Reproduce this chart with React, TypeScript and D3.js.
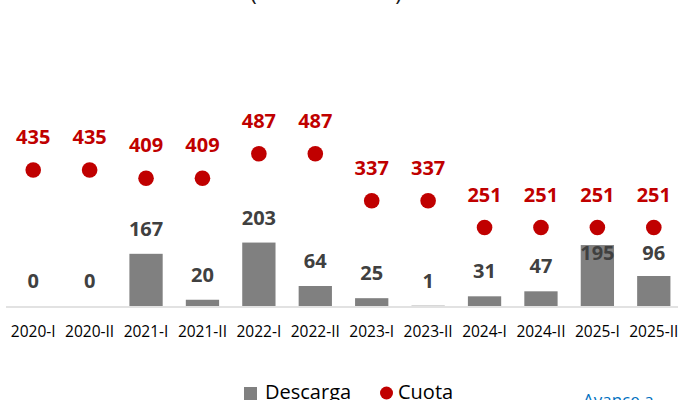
import React from "react";
import * as d3 from "d3";

const categories = ["2020-I","2020-II","2021-I","2021-II","2022-I","2022-II","2023-I","2023-II","2024-I","2024-II","2025-I","2025-II"];
const descarga = [0, 0, 167, 20, 203, 64, 25, 1, 31, 47, 195, 96];
const cuota = [435, 435, 409, 409, 487, 487, 337, 337, 251, 251, 251, 251];
const seriesNames = ["Descarga", "Cuota"];
const titleText = "(en toneladas)";
const noteText = "Avance a";

const W = 678, H = 400;
const FONT = "'Open Sans', 'Noto Sans', sans-serif";

export default function App() {
  const x = d3.scaleBand<string>().domain(categories).range([5, 682]).paddingInner(0.41).paddingOuter(0.205);
  const y = d3.scaleLinear().domain([0, 600]).range([306, 306 - 600 / 3.2]);
  const bw = x.bandwidth();
  const cx = (c: string) => (x(c) as number) + bw / 2;

  return (
    <svg width={W} height={H} style={{ position: "absolute", left: 0, top: 0, background: "#fff" }} fontFamily={FONT}>
      <rect width={W} height={H} fill="#fff" />
      <text x={326} y={-0.5} textAnchor="middle" fontSize={23} fill="#1a1a1a">{titleText}</text>
      {categories.map((c, i) => (
        <rect key={"b" + c} x={x(c)} y={y(descarga[i])} width={bw} height={y(0) - y(descarga[i])} fill="#808080" />
      ))}
      <line x1={6} x2={W} y1={307} y2={307} stroke="#d9d9d9" strokeWidth={1.5} />
      {categories.map((c, i) => {
        const barTop = y(descarga[i]);
        const dotY = y(cuota[i]);
        const ly = Math.max(barTop - 18, dotY + 32);
        return (
          <text key={"bl" + c} x={cx(c)} y={ly} textAnchor="middle" fontSize={20} fontWeight={700} fill="#404040">{descarga[i]}</text>
        );
      })}
      {categories.map((c, i) => (
        <g key={"d" + c}>
          <circle cx={cx(c)} cy={y(cuota[i])} r={7.8} fill="#c00000" />
          <text x={cx(c)} y={y(cuota[i]) - 26} textAnchor="middle" fontSize={20} fontWeight={700} fill="#c00000">{cuota[i]}</text>
        </g>
      ))}
      {categories.map((c) => (
        <text key={"t" + c} x={cx(c)} y={337} textAnchor="middle" fontSize={15.5} fill="#000">{c}</text>
      ))}
      <rect x={244} y={387} width={13} height={13} fill="#808080" />
      <text x={265} y={399} fontSize={20} fill="#000">{seriesNames[0]}</text>
      <circle cx={386.5} cy={393} r={6.5} fill="#c00000" />
      <text x={398} y={399} fontSize={20} fill="#000">{seriesNames[1]}</text>
      <text x={583} y={406} fontSize={17} fill="#0070c0">{noteText}</text>
    </svg>
  );
}
